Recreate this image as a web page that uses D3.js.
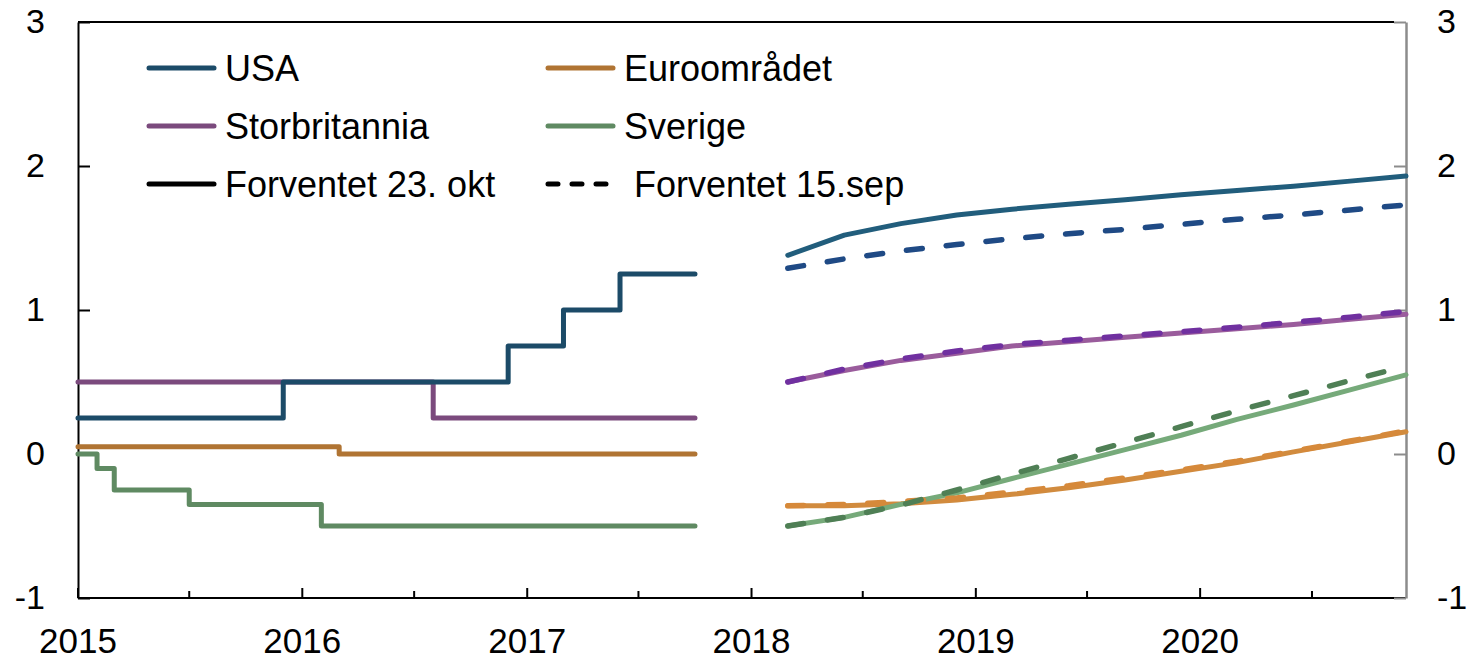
<!DOCTYPE html>
<html>
<head>
<meta charset="utf-8">
<script src="https://cdn.jsdelivr.net/npm/d3@7"></script>
<style>
  body { margin: 0; background: #fff; }
  text { font-family: "Liberation Sans", Arial, sans-serif; fill: #000; }
</style>
</head>
<body>
<svg class="chart" width="1474" height="660"></svg>
<script>
// monthly history, Jan 2015 - Oct 2017
var histStart = "2015-01-01";
var usaHist = [0.25,0.25,0.25,0.25,0.25,0.25,0.25,0.25,0.25,0.25,0.25,
  0.5,0.5,0.5,0.5,0.5,0.5,0.5,0.5,0.5,0.5,0.5,0.5,
  0.75,0.75,0.75, 1,1,1, 1.25,1.25,1.25,1.25,1.25];
var ukHist = [0.5,0.5,0.5,0.5,0.5,0.5,0.5,0.5,0.5,0.5,0.5,0.5,0.5,0.5,0.5,0.5,0.5,0.5,0.5,
  0.25,0.25,0.25,0.25,0.25,0.25,0.25,0.25,0.25,0.25,0.25,0.25,0.25,0.25,0.25];
var euroHist = [0.05,0.05,0.05,0.05,0.05,0.05,0.05,0.05,0.05,0.05,0.05,0.05,0.05,0.05,
  0,0,0,0,0,0,0,0,0,0,0,0,0,0,0,0,0,0,0,0];
var sweHist = [0, -0.1, -0.25,-0.25,-0.25,-0.25,
  -0.35,-0.35,-0.35,-0.35,-0.35,-0.35,-0.35,
  -0.5,-0.5,-0.5,-0.5,-0.5,-0.5,-0.5,-0.5,-0.5,-0.5,-0.5,-0.5,-0.5,-0.5,-0.5,-0.5,-0.5,-0.5,-0.5,-0.5,-0.5];

// quarterly forward rates, Mar 2018 - Dec 2020
var fwdStart = "2018-03-01";
var usaOkt = [1.38,1.52,1.60,1.66,1.70,1.735,1.765,1.80,1.83,1.86,1.895,1.93];
var usaSep = [1.29,1.355,1.41,1.455,1.495,1.53,1.56,1.595,1.63,1.66,1.695,1.73];
var ukOkt = [0.50,0.58,0.65,0.70,0.75,0.78,0.81,0.84,0.87,0.90,0.935,0.97];
var ukSep = [0.50,0.59,0.66,0.715,0.76,0.79,0.82,0.85,0.88,0.915,0.95,0.99];
var euroOkt = [-0.36,-0.36,-0.345,-0.32,-0.28,-0.235,-0.18,-0.12,-0.06,0.015,0.085,0.155];
var euroSep = [-0.36,-0.35,-0.33,-0.305,-0.265,-0.22,-0.165,-0.11,-0.05,0.02,0.09,0.16];
var sweOkt = [-0.50,-0.44,-0.35,-0.27,-0.17,-0.07,0.03,0.13,0.24,0.34,0.445,0.55];
var sweSep = [-0.50,-0.44,-0.355,-0.25,-0.14,-0.03,0.08,0.19,0.30,0.405,0.51,0.61];

var yTicks = [-1, 0, 1, 2, 3];
var legendItems = ["USA", "Euroområdet", "Storbritannia", "Sverige", "Forventet 23. okt", " Forventet 15.sep"];

var svg = d3.select(".chart");
var padL = 78, padR = 1406, padT = 22, padB = 598;

var x = d3.scaleTime()
  .domain([new Date(2015, 0, 1), new Date(2020, 11, 1)])
  .range([padL, padR]);
var y = d3.scaleLinear().domain([-1, 3]).range([padB, padT]);

function monthly(start, vals, step) {
  var d0 = new Date(start + "T00:00:00");
  return vals.map(function (v, i) { return { date: d3.timeMonth.offset(d0, i * step), v: v }; });
}

/* axes */
var halfYears = d3.timeMonth.every(6).range(new Date(2015, 0, 1), new Date(2020, 11, 2));
var xAxis = svg.append("g").attr("transform", "translate(0," + padB + ")");
xAxis.selectAll("line").data(halfYears).enter().append("line")
  .attr("x1", function (d) { return x(d); }).attr("x2", function (d) { return x(d); })
  .attr("y1", 0).attr("y2", function (d) { return d.getMonth() === 0 ? -10 : -7; })
  .attr("stroke", "#000").attr("stroke-width", 2);
xAxis.selectAll("text").data(halfYears.filter(function (d) { return d.getMonth() === 0; }))
  .enter().append("text")
  .attr("x", function (d) { return x(d); }).attr("y", 55)
  .attr("text-anchor", "middle").attr("font-size", 35)
  .text(function (d) { return d.getFullYear(); });

svg.append("line").attr("x1", padL).attr("x2", padR).attr("y1", padB).attr("y2", padB)
  .attr("stroke", "#000").attr("stroke-width", 2);
svg.append("line").attr("x1", padL).attr("x2", padR - 12).attr("y1", padT).attr("y2", padT)
  .attr("stroke", "#000").attr("stroke-width", 2);

var yLeft = d3.axisLeft(y).tickValues(yTicks).tickSize(-12).tickPadding(33).tickSizeOuter(0)
  .tickFormat(function (d) { return String(d); });
var gl = svg.append("g").attr("transform", "translate(" + padL + ",0)").call(yLeft);
gl.select(".domain").attr("stroke", "#000").attr("stroke-width", 2);
gl.selectAll(".tick line").attr("stroke", "#000").attr("stroke-width", 2);
gl.selectAll(".tick text").attr("font-size", 34).attr("font-family", "Liberation Sans, Arial");

var yRight = d3.axisRight(y).tickValues(yTicks).tickSize(-12).tickPadding(31).tickSizeOuter(0)
  .tickFormat(function (d) { return String(d); });
var gr = svg.append("g").attr("transform", "translate(" + padR + ",0)").call(yRight);
gr.select(".domain").attr("stroke", "#8c8c8c").attr("stroke-width", 2.5);
gr.selectAll(".tick line").attr("stroke", "#8c8c8c").attr("stroke-width", 2);
gr.selectAll(".tick text").attr("font-size", 34).attr("font-family", "Liberation Sans, Arial");

/* lines */
var stepLine = d3.line().curve(d3.curveStepAfter)
  .x(function (d) { return x(d.date); }).y(function (d) { return y(d.v); });
var line = d3.line()
  .x(function (d) { return x(d.date); }).y(function (d) { return y(d.v); });

var hist = [
  { vals: usaHist, color: "#1c4b68" },
  { vals: ukHist, color: "#7b4a7d" },
  { vals: euroHist, color: "#b07433" },
  { vals: sweHist, color: "#5f8a62" }
];
// Sweden first, USA on top
[hist[3], hist[2], hist[1], hist[0]].forEach(function (s) {
  svg.append("path").datum(monthly(histStart, s.vals, 1))
    .attr("d", stepLine).attr("fill", "none").attr("stroke", s.color)
    .attr("stroke-width", 5).attr("stroke-linecap", "round").attr("stroke-linejoin", "round");
});

var fwd = [
  { vals: usaOkt, color: "#215d7c", dash: null },
  { vals: ukOkt, color: "#9a5c9c", dash: null },
  { vals: euroOkt, color: "#d18b3e", dash: null },
  { vals: sweOkt, color: "#76aa7a", dash: null },
  { vals: usaSep, color: "#1f4a85", dash: "16 24" },
  { vals: ukSep, color: "#7030a0", dash: "16 24" },
  { vals: euroSep, color: "#d6893a", dash: "16 24" },
  { vals: sweSep, color: "#4f7f55", dash: "16 24" }
];
fwd.forEach(function (s) {
  svg.append("path").datum(monthly(fwdStart, s.vals, 3))
    .attr("d", line).attr("fill", "none").attr("stroke", s.color)
    .attr("stroke-width", s.dash ? 5.5 : 5).attr("stroke-dasharray", s.dash)
    .attr("stroke-linecap", "round").attr("stroke-linejoin", "round");
});

/* legend */
var legendColors = ["#1c4b68", "#b07433", "#7b4a7d", "#5f8a62", "#000", "#000"];
var legend = svg.append("g");
legendItems.forEach(function (name, i) {
  var col = i % 2, row = Math.floor(i / 2);
  var lx = col === 0 ? 149 : 548, ly = 68 + row * 58;
  legend.append("line").attr("x1", lx).attr("x2", lx + 65).attr("y1", ly).attr("y2", ly)
    .attr("stroke", legendColors[i]).attr("stroke-width", 5).attr("stroke-linecap", "round")
    .attr("stroke-dasharray", i === 5 ? "10 14" : null);
  legend.append("text").attr("x", lx + 76).attr("y", ly).attr("dy", "0.36em")
    .attr("font-size", 36).style("white-space", "pre").text(name);
});
</script>
</body>
</html>
